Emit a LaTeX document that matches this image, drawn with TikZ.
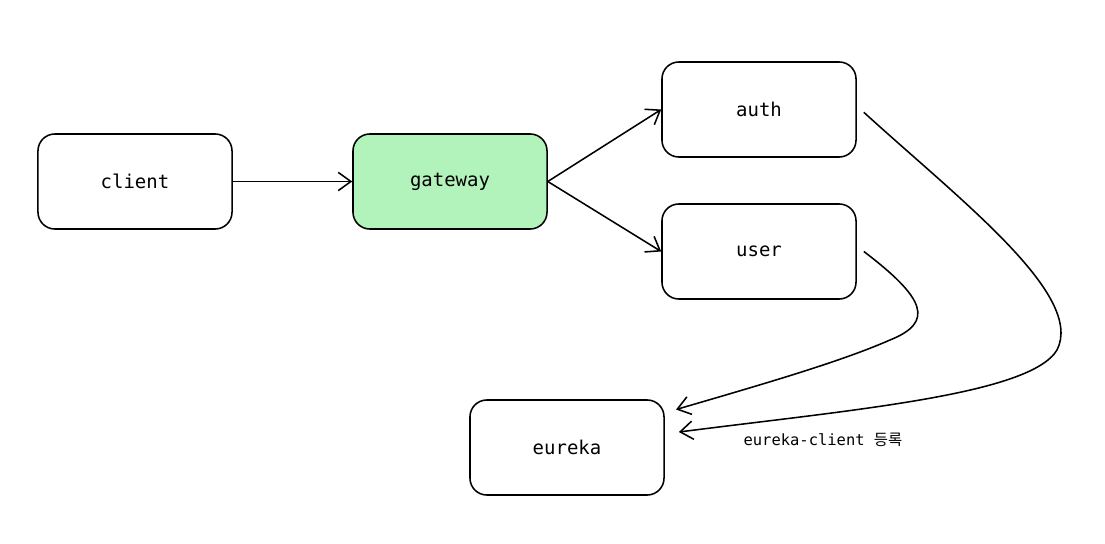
\documentclass[tikz,border=0pt]{standalone}
\usepackage{fontspec}
\setmonofont{DejaVu Sans Mono}
\newfontfamily\korfont{Noto Sans CJK KR}
\usetikzlibrary{arrows.meta}
\definecolor{gwgreen}{HTML}{B2F2BB}
\tikzstyle{box}=[draw,line width=1.1pt,rounded corners=12pt,minimum width=4.85cm,minimum height=2.375cm,font=\ttfamily\fontsize{13.5}{16}\selectfont]
\tikzstyle{gwbox}=[box,fill=gwgreen]
\tikzstyle{edge} = [draw,line width=1.1pt,-{Straight Barb[length=9pt,width=13pt,line width=1.1pt]}]

\begin{document}
\begin{tikzpicture}[x=0.025cm,y=-0.025cm]
    \useasboundingbox (0,0) rectangle (1105,544);
    % First we draw the services
    \foreach \pos/\name/\kind in {{(135,181.5)/client/box}, {(450,181.5)/gateway/gwbox}, {(759,109.5)/auth/box}, {(759,251.5)/user/box}, {(567,447.5)/eureka/box}}
        \node[\kind] (\name) at \pos {\name};
    % Requests go through the gateway
    \foreach \source/ \dest in {client/gateway, gateway/auth, gateway/user}
        \path[edge] (\source.east) -- (\dest.west) ;
    % Services register with eureka
    \path[edge] ([xshift=5pt]user.east) .. controls (925,298) and (935,322) .. (890,340)
        .. controls (840,362) and (760,385) .. ([xshift=8pt,yshift=27pt]eureka.east);
    \path[edge] ([xshift=5pt,yshift=-2pt]auth.east) .. controls (960,200) and (1085,295) .. (1057,350)
        .. controls (1030,395) and (850,410) .. ([xshift=10pt,yshift=11pt]eureka.east);
    \node (reglabel) at (823,440) {\ttfamily\fontsize{11}{13}\selectfont eureka-client {\korfont 등록}};
\end{tikzpicture}
\end{document}
